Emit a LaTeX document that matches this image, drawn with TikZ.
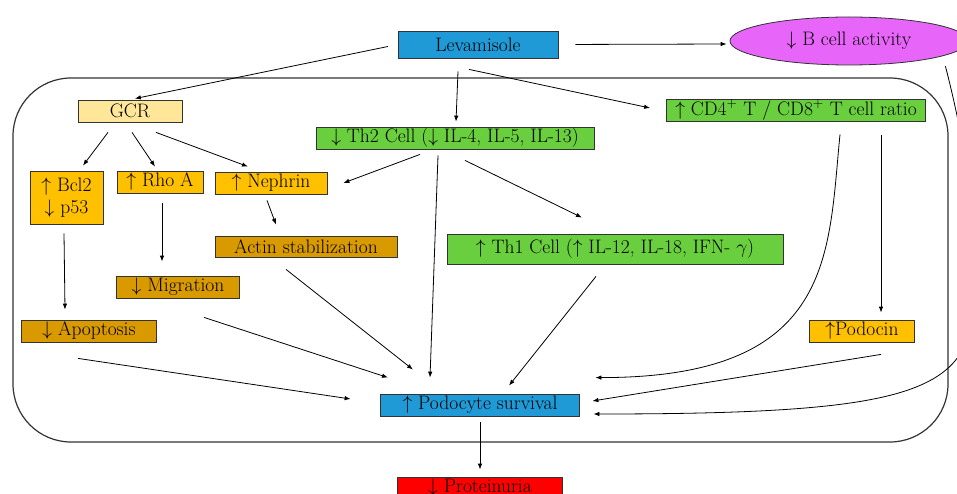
\RequirePackage{fix-cm}
\documentclass[tikz,border=0pt]{standalone}
\usepackage{fontspec}
\usetikzlibrary{arrows.meta,shapes.geometric}

\definecolor{levblue}{HTML}{1F9AD6}
\definecolor{thgreen}{HTML}{6ACF3E}
\definecolor{upyellow}{HTML}{FFC000}
\definecolor{downyellow}{HTML}{D99A00}
\definecolor{gcrtan}{HTML}{FFE699}
\definecolor{bpink}{HTML}{E765F8}
\definecolor{boxline}{HTML}{333333}

\tikzset{
  box/.style={draw=boxline, line width=0.8pt, rectangle, minimum height=22pt, inner sep=1pt},
  link/.style={->, line width=0.8pt},
}

\begin{document}
\begin{tikzpicture}[x=1pt, y=-1pt, >={Latex[length=6pt,width=4.5pt]},
  every node/.style={font=\fontsize{19.5}{22}\selectfont}]

\useasboundingbox (0,0) rectangle (957,494);

% outer frame
\node[draw=boxline, line width=1.2pt, rectangle, rounded corners=58pt, minimum width=935pt, minimum height=364pt] at (480.5, 260) (frame) {};

% drug and b cells, top
\node[box, fill=levblue, minimum width=160pt, minimum height=27pt] at (478, 44.5) (lev) {Levamisole};
\node[draw=boxline, line width=0.8pt, ellipse, fill=bpink, minimum width=238pt, minimum height=48pt] at (849, 41) (bcell) {$\downarrow$ B cell activity};

% first row
\node[box, fill=gcrtan, minimum width=104pt] at (130, 111) (gcr) {GCR};
\node[box, fill=thgreen, minimum width=278pt] at (455, 138) (th2) {$\downarrow$ Th2 Cell ($\downarrow$ IL-4, IL-5, IL-13)};
\node[box, fill=thgreen, minimum width=259pt] at (796, 110) (cd4) {$\uparrow$ CD4$^{+}$ T / CD8$^{+}$ T cell ratio};

% gcr targets
\node[box, fill=upyellow, minimum width=73pt, minimum height=53pt, align=center] at (66.5, 198) (bcl2) {$\uparrow$ Bcl2\\$\downarrow$ p53};
\node[box, fill=upyellow, minimum width=86pt] at (160, 182) (rhoa) {$\uparrow$ Rho A};
\node[box, fill=upyellow, minimum width=112pt] at (271, 183) (neph) {$\uparrow$ Nephrin};

% effects
\node[box, fill=downyellow, minimum width=182pt, minimum height=21pt] at (306, 246.5) (actin) {Actin stabilization};
\node[box, fill=thgreen, minimum width=336pt, minimum height=30pt] at (615, 249) (th1) {$\uparrow$ Th1 Cell ($\uparrow$ IL-12, IL-18, IFN- $\gamma$)};
\node[box, fill=downyellow, minimum width=123pt] at (178, 287) (migr) {$\downarrow$ Migration};
\node[box, fill=downyellow, minimum width=135pt] at (89, 331) (apop) {$\downarrow$ Apoptosis};
\node[box, fill=upyellow, minimum width=105pt] at (862, 331) (podo) {$\uparrow$Podocin};

% outcome
\node[box, fill=levblue, minimum width=199pt] at (480, 405) (ps) {$\uparrow$ Podocyte survival};
\node[box, fill=red, minimum width=165pt] at (480, 488) (prot) {$\downarrow$ Proteinuria};

% from levamisole
\draw[link, shorten <=10pt, shorten >=5pt] (lev.west) -- (gcr.north);
\draw[link] ([xshift=-20pt,yshift=-13pt]lev.south) -- ([xshift=1pt,yshift=5pt]th2.north);
\draw[link] ([xshift=-9pt,yshift=-11pt]lev.south) -- ([xshift=-16pt,yshift=2pt]cd4.west);
\draw[link, shorten <=17pt, shorten >=3pt] (lev.east) -- ([yshift=-3pt]bcell.west);

% from gcr
\draw[link] ([xshift=-22pt,yshift=-10pt]gcr.south) -- ([xshift=16.5pt,yshift=5.5pt]bcl2.north);
\draw[link] ([xshift=2pt,yshift=-10pt]gcr.south) -- ([xshift=-5pt,yshift=4pt]rhoa.north);
\draw[link] ([xshift=26pt,yshift=-10pt]gcr.south) -- ([xshift=-23pt,yshift=5pt]neph.north);

% from th2
\draw[link] ([xshift=-35pt,yshift=-5pt]th2.south) -- ([xshift=16pt]neph.east);
\draw[link] ([xshift=-17pt,yshift=-6pt]th2.south) -- ([xshift=-50pt,yshift=16pt]ps.north);
\draw[link] ([xshift=10pt,yshift=-11pt]th2.south) -- ([xshift=-33pt,yshift=16pt]th1.north);

% down the left side
\draw[link] ([xshift=-4pt,yshift=-6pt]neph.south) -- ([xshift=-30pt,yshift=11pt]actin.north);
\draw[link] ([xshift=-2.5pt,yshift=-8.5pt]bcl2.south) -- ([xshift=-24pt,yshift=10pt]apop.north);
\draw[link] ([xshift=2pt,yshift=-10pt]rhoa.south) -- ([xshift=-16pt,yshift=14pt]migr.north);

% into podocyte survival
\draw[link] ([xshift=-20pt,yshift=-12pt]actin.south) -- ([xshift=-67pt,yshift=24pt]ps.north);
\draw[link] ([xshift=26pt,yshift=-19pt]migr.south) -- ([xshift=-92pt,yshift=16pt]ps.north);
\draw[link] ([xshift=-11pt,yshift=-16pt]apop.south) -- ([xshift=-29.5pt,yshift=6pt]ps.west);
\draw[link] ([xshift=-19pt,yshift=-12pt]th1.south) -- ([xshift=29pt,yshift=8pt]ps.north);

% right side
\draw[link] ([xshift=44pt,yshift=-13pt]cd4.south) .. controls +(-12,120) and +(240,0) .. ([xshift=15.5pt,yshift=16pt]ps.north east);
\draw[link] ([xshift=85pt,yshift=-14pt]cd4.south) -- ([xshift=19pt,yshift=7pt]podo.north);
\draw[link] ([xshift=19pt,yshift=-12pt]podo.south) -- ([xshift=12.5pt,yshift=4pt]ps.east);
\draw[link] ([xshift=12pt,yshift=-8pt]bcell.south east) .. controls +(18,70) and +(0,-80) .. (975, 285)
  .. controls +(0,105) and +(337,0) .. ([xshift=13.5pt,yshift=-9pt]ps.east);

% proteinuria
\draw[link] ([yshift=-6pt]ps.south) -- ([yshift=7pt]prot.north);

\end{tikzpicture}
\end{document}
